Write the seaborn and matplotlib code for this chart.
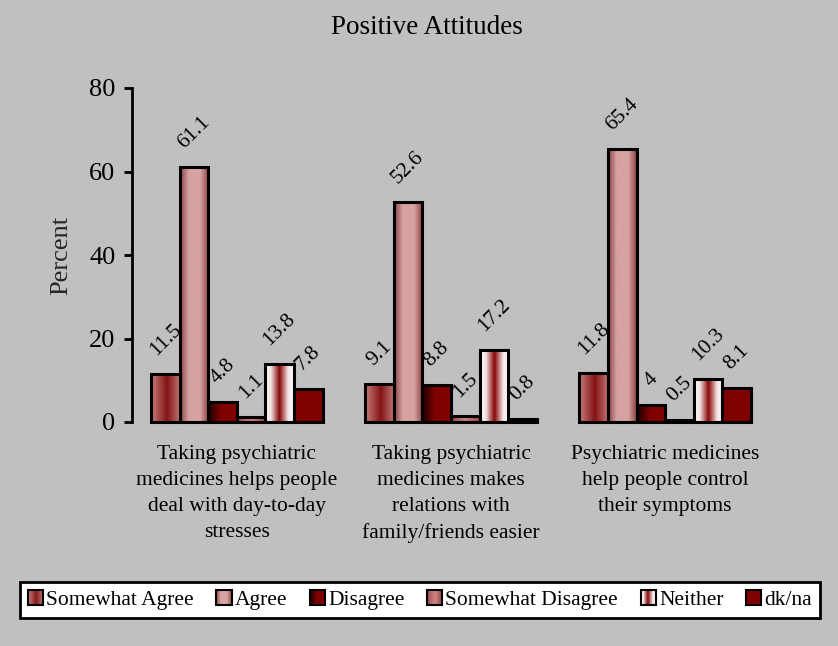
import numpy as np
import pandas as pd
import matplotlib
matplotlib.use("Agg")
import matplotlib.pyplot as plt
from matplotlib.colors import LinearSegmentedColormap
from matplotlib.patches import Rectangle
from matplotlib.legend_handler import HandlerBase
import seaborn as sns

# ---- data ----
statements = [
    "Taking psychiatric\nmedicines helps people\ndeal with day-to-day\nstresses",
    "Taking psychiatric\nmedicines makes\nrelations with\nfamily/friends easier",
    "Psychiatric medicines\nhelp people control\ntheir symptoms",
]
responses = ["Somewhat Agree", "Agree", "Disagree", "Somewhat Disagree", "Neither", "dk/na"]
somewhat_agree = [11.5, 9.1, 11.8]
agree = [61.1, 52.6, 65.4]
disagree = [4.8, 8.8, 4.0]
somewhat_disagree = [1.1, 1.5, 0.5]
neither = [13.8, 17.2, 10.3]
dk_na = [7.8, 0.8, 8.1]

series = [somewhat_agree, agree, disagree, somewhat_disagree, neither, dk_na]
df = pd.DataFrame({
    "statement": [s for _ in responses for s in statements],
    "response": [r for r in responses for _ in statements],
    "percent": [v for vals in series for v in vals],
})

# horizontal colour gradients for each response
gradients = {
    "Somewhat Agree": [(0.0, "#C88080"), (0.55, "#841414"), (1.0, "#C07474")],
    "Agree": [(0.0, "#8C4040"), (0.3, "#D6A2A2"), (0.7, "#D6A2A2"), (1.0, "#8C4040")],
    "Disagree": [(0.0, "#1A0000"), (0.45, "#800000"), (1.0, "#800000")],
    "Somewhat Disagree": [(0.0, "#9C4848"), (0.5, "#CC8484"), (1.0, "#9C4848")],
    "Neither": [(0.0, "#FFFFFF"), (0.2, "#F2E4E4"), (0.5, "#880404"), (0.8, "#F2E4E4"), (1.0, "#FFFFFF")],
    "dk/na": [(0.0, "#800000"), (1.0, "#800000")],
}
cmaps = {k: LinearSegmentedColormap.from_list(k, v) for k, v in gradients.items()}
palette = {k: cmaps[k](0.5) for k in responses}

BG = "#C0C0C0"
sns.set_style("white")
plt.rcParams["font.family"] = ["Liberation Serif", "DejaVu Serif"]
plt.rcParams["text.color"] = "black"

fig = plt.figure(figsize=(8.38, 6.46), dpi=100, facecolor=BG)
ax = fig.add_axes([132 / 838, 1 - 422 / 646, 638 / 838, 334 / 646])
ax.set_facecolor(BG)

sns.barplot(data=df, x="statement", y="percent", hue="response",
            hue_order=responses, palette=palette, order=statements,
            edgecolor="black", linewidth=2.2, width=0.8, legend=False, ax=ax)

for name, container in zip(responses, ax.containers):
    for patch, val in zip(container.patches, container.datavalues):
        x0, y0, x1, y1 = patch.get_bbox().extents
        patch.set_facecolor("none")
        patch.set_clip_on(False)
        patch.set_zorder(3)
        grad = np.linspace(0, 1, 128).reshape(1, -1)
        im = ax.imshow(grad, cmap=cmaps[name], extent=[x0, x1, y0, y1],
                       aspect="auto", interpolation="bilinear", zorder=2)
        im.set_clip_path(patch)
        ax.annotate(f"{val:g}", ((x0 + x1) / 2, val), xytext=(0, 10.5),
                    textcoords="offset points", rotation=45, ha="center",
                    va="bottom", fontsize=15.5, color="black")

ax.set_xlim(-0.49, 2.49)
ax.set_ylim(0, 80)
ax.set_yticks([0, 20, 40, 60, 80])
ax.set_xticks([0, 1, 2])
ax.set_xticklabels(statements, fontsize=15.5, linespacing=1.5)
ax.set_xlabel("")
ax.set_ylabel("Percent", fontsize=19, labelpad=12)
for s in ["top", "right", "bottom"]:
    ax.spines[s].set_visible(False)
ax.spines["left"].set_linewidth(2)
ax.spines["left"].set_color("black")
ax.tick_params(axis="y", direction="out", length=6, width=2, labelsize=19,
               left=True, pad=6, colors="black")
ax.tick_params(axis="x", length=0, pad=16.5, colors="black")

fig.text(427 / 838, 1 - 27 / 646, "Positive Attitudes", ha="center",
         va="center", fontsize=19.5)


class GradientSquare(HandlerBase):
    def __init__(self, cmap):
        super().__init__()
        self.cmap = cmap

    def create_artists(self, legend, orig_handle, xdescent, ydescent,
                       width, height, fontsize, trans):
        arts = []
        n = 16
        x0, y0 = -xdescent, -ydescent
        for i in range(n):
            c = self.cmap((i + 0.5) / n)
            arts.append(Rectangle((x0 + i * width / n, y0), width / n + 0.05, height,
                                  facecolor=c, edgecolor="none", transform=trans))
        arts.append(Rectangle((x0, y0), width, height, facecolor="none",
                              edgecolor="black", linewidth=1.5, transform=trans))
        return arts


proxies = [Rectangle((0, 0), 1, 1) for _ in responses]
leg = fig.legend(proxies, responses, loc="center",
                 bbox_to_anchor=(420 / 838, 1 - 600 / 646), ncol=6,
                 handler_map={p: GradientSquare(cmaps[r]) for p, r in zip(proxies, responses)},
                 fontsize=15.5, frameon=True, fancybox=False, framealpha=1,
                 facecolor="white", edgecolor="black", handlelength=0.7,
                 handleheight=0.7, handletextpad=0.15, columnspacing=1.05,
                 borderpad=0.35, borderaxespad=0)
leg.get_frame().set_linewidth(2)

fig.savefig("out.png", dpi=100, facecolor=BG)
